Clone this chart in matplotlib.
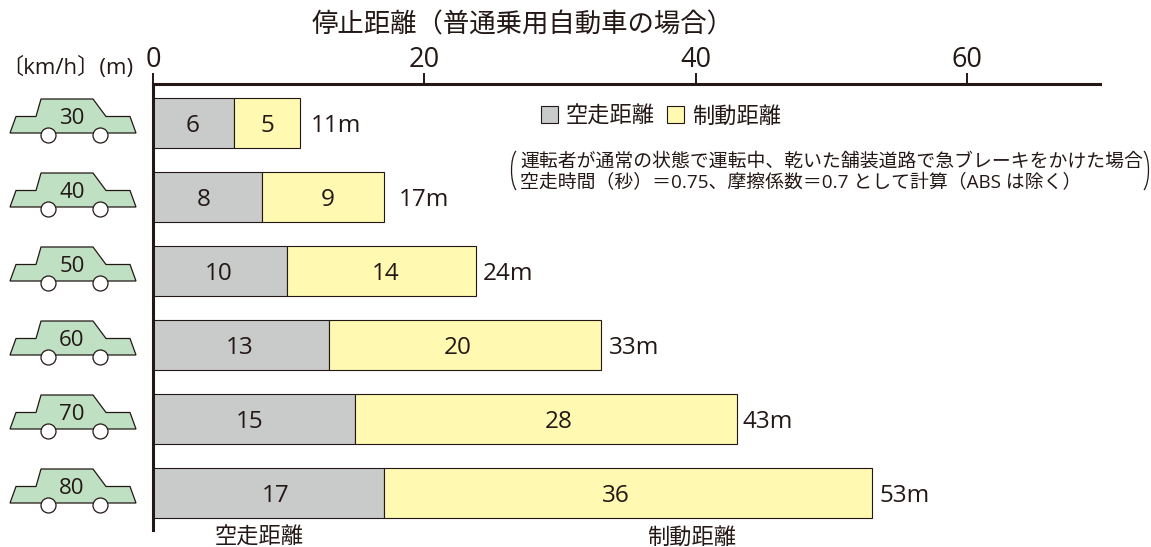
import numpy as np
import matplotlib
matplotlib.use('Agg')
import matplotlib.pyplot as plt
from matplotlib.patches import Polygon, Circle, PathPatch
from matplotlib.path import Path

plt.rcParams['font.family'] = ['Open Sans', 'Noto Sans CJK JP', 'DejaVu Sans']

speeds = [30, 40, 50, 60, 70, 80]
reaction_dist = [6, 8, 9.9, 13, 14.85, 17]
braking_dist = [4.85, 9, 13.9, 20, 28.15, 36]
reaction_labels = ['6', '8', '10', '13', '15', '17']
braking_labels = ['5', '9', '14', '20', '28', '36']
total_labels = ['11m', '17m', '24m', '33m', '43m', '53m']
xticks = [0, 20, 40, 60]

DARK = '#231815'
W, H = 1151, 547

# the labels are not quite centred in the original, pixel nudges
reaction_nudge = [-1, -4, -1, -2, -4, 7]
braking_nudge = [0, 5, 4, -7, 13, -12]
total_nudge = [4, 8, 0, 1, -1, 0]

fig = plt.figure(figsize=(W / 100, H / 100), dpi=100)

# main axes, top edge at the x axis line
left, right, top, bottom = 153, 1100, 84, 530
ax = fig.add_axes([left / W, 1 - bottom / H, (right - left) / W, (bottom - top) / H])
ax.set_xlim(0, (right - left) / 13.57)
ax.set_ylim((bottom - 123) / 74, (top - 123) / 74)

ys = np.arange(len(speeds))
bar_h = 50 / 74
ax.barh(ys, reaction_dist, height=bar_h, color='#c9caca', edgecolor=DARK, linewidth=0.8, label='空走距離')
ax.barh(ys, braking_dist, left=reaction_dist, height=bar_h, color='#fff9b1', edgecolor=DARK, linewidth=0.8, label='制動距離')

for i in range(len(speeds)):
    ax.annotate(reaction_labels[i], (reaction_dist[i] / 2, i), xytext=(reaction_nudge[i], -3),
                textcoords='offset pixels', ha='center', va='center', fontsize=17.5, color=DARK)
    ax.annotate(braking_labels[i], (reaction_dist[i] + braking_dist[i] / 2, i), xytext=(braking_nudge[i], -3),
                textcoords='offset pixels', ha='center', va='center', fontsize=17.5, color=DARK)
    ax.annotate(total_labels[i], (reaction_dist[i] + braking_dist[i], i), xytext=(7 + total_nudge[i], -3),
                textcoords='offset pixels', ha='left', va='center', fontsize=17.5, color=DARK)

for s in ['right', 'bottom']:
    ax.spines[s].set_visible(False)
ax.spines['top'].set_linewidth(2.2)
ax.spines['left'].set_linewidth(2.2)
ax.spines['top'].set_color(DARK)
ax.spines['left'].set_color(DARK)
ax.xaxis.tick_top()
ax.set_xticks(xticks)
ax.tick_params(axis='x', length=8, width=1.4, color=DARK, labelsize=19.5, labelcolor=DARK, pad=-0.5)
ax.set_yticks([])

ax.legend(loc='upper left', bbox_to_anchor=(0.3975, 0.975), ncol=2, frameon=False, fontsize=16,
          handlelength=0.78, handleheight=0.78, handletextpad=0.35, columnspacing=0.55, borderpad=0, labelcolor=DARK)

# overlay in pixel coords for cars and notes
ov = fig.add_axes([0, 0, 1, 1], zorder=5)
ov.set_xlim(0, W)
ov.set_ylim(H, 0)
ov.axis('off')
ov.patch.set_alpha(0)

for i, sp in enumerate(speeds):
    cy = 123 + 74 * i
    body = [(10, 10), (16, -6.5), (36, -6.5), (41, -24), (93, -24), (106, -6.5), (130, -6.5), (136, 10)]
    ov.add_patch(Polygon([(x, cy + y) for x, y in body], closed=True, fc='#bfe0c3', ec=DARK, lw=0.9))
    for wx in (48.5, 100.5):
        ov.add_patch(Circle((wx, cy + 12.5), 7.5, fc='white', ec=DARK, lw=0.9, zorder=3))
    ov.text(72, cy - 5, str(sp), ha='center', va='center', fontsize=16, color=DARK)

ov.text(523, 26, '停止距離（普通乗用自動車の場合）', ha='center', va='center', fontsize=19, color=DARK)
ov.text(1, 68, '〔km/h〕(m)', ha='left', va='center', fontsize=16, color=DARK)
ov.text(520, 162, '運転者が通常の状態で運転中、乾いた舗装道路で急ブレーキをかけた場合', ha='left', va='center', fontsize=13.55, color=DARK)
ov.text(520, 183, '空走時間（秒）＝0.75、摩擦係数＝0.7 として計算（ABS は除く）', ha='left', va='center', fontsize=13.55, color=DARK)
ov.text(259, 538, '空走距離', ha='center', va='center', fontsize=16, color=DARK)
ov.text(692, 538, '制動距離', ha='center', va='center', fontsize=16, color=DARK)

# brackets around the note
for x0, x1 in [(516, 510), (1144, 1150)]:
    verts = [(x0, 151), (x1, 158), (x1, 182), (x0, 190)]
    ov.add_patch(PathPatch(Path(verts, [Path.MOVETO, Path.CURVE4, Path.CURVE4, Path.CURVE4]), fc='none', ec=DARK, lw=0.9))

fig.savefig('out.png', dpi=100)
